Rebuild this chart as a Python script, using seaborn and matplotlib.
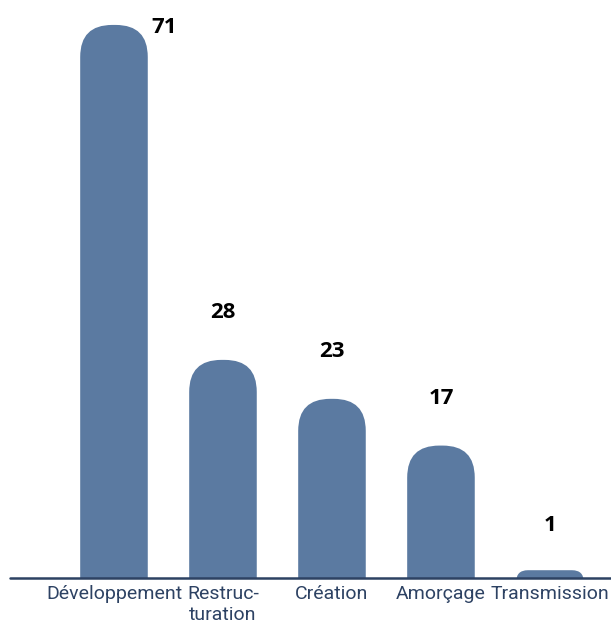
import matplotlib
matplotlib.use("Agg")
import matplotlib.pyplot as plt
from matplotlib.patches import FancyBboxPatch
import seaborn as sns

# data
categories = ["Développement", "Restruc-\nturation", "Création", "Amorçage", "Transmission"]
values = [71, 28, 23, 17, 1]

bar_color = "#5b7aa1"
line_color = "#2d4263"

sns.set_theme(style="white")

label_font = ["Roboto", "DejaVu Sans"]
num_font = ["Open Sans", "DejaVu Sans"]

fig = plt.figure(figsize=(6.11, 6.31), dpi=100)
ax = fig.add_axes([10 / 611, 53 / 631, 601 / 611, 578 / 631])

sns.barplot(x=categories, y=values, color=bar_color, width=0.62, saturation=1, ax=ax)
ax.set_xlim(-0.954, 4.56)
ax.set_ylim(0, 74.2)

# rounded tops: swap the library's bars for rounded boxes of the same geometry
fig.canvas.draw()
inv = ax.transData.inverted()
p0 = inv.transform((0, 0))
p1 = inv.transform((1, 1))
x_per_px = p1[0] - p0[0]
y_per_px = p1[1] - p0[1]
aspect = y_per_px / x_per_px

bars = list(ax.patches)
for b in bars:
    x, w, h = b.get_x(), b.get_width(), b.get_height()
    b.remove()
    h_px = h / y_per_px
    r_px = min(32, h_px * 1.5)
    r = r_px * x_per_px
    extra = 3 * r * aspect
    fb = FancyBboxPatch((x, -extra), w, h + extra,
                        boxstyle=f"round,pad=0,rounding_size={r}",
                        mutation_aspect=aspect, facecolor=bar_color,
                        edgecolor="none", zorder=2)
    ax.add_patch(fb)

# value labels
for i, v in enumerate(values):
    if i == 0:
        off = (36, -2)
    elif v < 3:
        off = (0, 32)
    else:
        off = (0, 34)
    ax.annotate(str(v), (i, v), xytext=off, textcoords="offset points",
                ha="center", va="center", fontsize=16, fontweight="bold",
                family=num_font, color="black")

ax.axhline(0, color=line_color, lw=1.8, zorder=3, clip_on=False)

for s in ax.spines.values():
    s.set_visible(False)
ax.set_yticks([])
ax.tick_params(axis="x", length=0, pad=5)
for t in ax.get_xticklabels():
    t.set_fontfamily(label_font)
    t.set_fontsize(14)
    t.set_color(line_color)
    t.set_linespacing(1.2)
ax.set_xlabel("")
ax.set_ylabel("")

fig.savefig("out.png", dpi=100)
